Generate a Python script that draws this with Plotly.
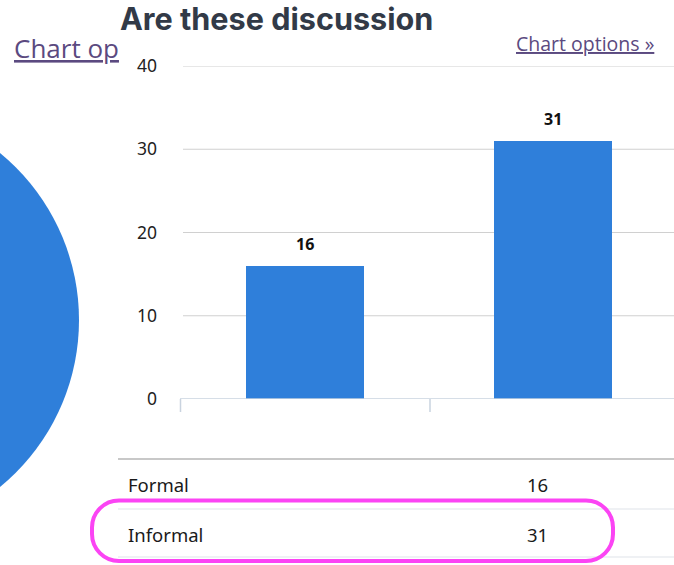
import plotly.graph_objects as go

# Data
categories = ["Formal", "Informal"]
counts = [16, 31]
y_ticks = [0, 10, 20, 30, 40]
title_text = "Are these discussion"
link_text = "Chart options »"
link_stub = "Chart op"

W, H = 674, 565
BLUE = "#2f7fda"
LINK = "#5b4a80"
MAGENTA = "#fb44f4"


def px(x):
    return x / W


def py(y):
    return 1 - y / H


fig = go.Figure()

fig.add_trace(go.Bar(
    x=categories,
    y=counts,
    width=0.476,
    marker=dict(color=BLUE, line=dict(width=0)),
    hoverinfo="skip",
))

annotations = []

# value labels above the bars
for c, v in zip(categories, counts):
    annotations.append(dict(
        x=c, y=v, xref="x", yref="y", text=f"<b>{v}</b>", showarrow=False,
        yshift=22, font=dict(family="Noto Sans", size=16, color="#111111"),
    ))

# heading and links
annotations.append(dict(
    x=px(118), y=py(18), xref="paper", yref="paper", xanchor="left", yanchor="middle",
    text=f"<b>{title_text}</b>", showarrow=False,
    font=dict(family="Inter", size=30.6, color="#323a47"),
))
annotations.append(dict(
    x=px(12), y=py(48), xref="paper", yref="paper", xanchor="left", yanchor="middle",
    text=f"<u>{link_stub}</u>", showarrow=False,
    font=dict(family="Open Sans", size=26, color=LINK),
))
annotations.append(dict(
    x=px(656), y=py(44), xref="paper", yref="paper", xanchor="right", yanchor="middle",
    text=f"<u>{link_text}</u>", showarrow=False,
    font=dict(family="Open Sans", size=19.5, color=LINK),
))

# data table below the chart
row_y = [484, 534]
for c, v, ry in zip(categories, counts, row_y):
    annotations.append(dict(
        x=px(126), y=py(ry), xref="paper", yref="paper", xanchor="left", yanchor="middle",
        text=c, showarrow=False, font=dict(family="Noto Sans", size=18.5, color="#1a1a1a"),
    ))
    annotations.append(dict(
        x=px(537), y=py(ry), xref="paper", yref="paper", xanchor="center", yanchor="middle",
        text=str(v), showarrow=False, font=dict(family="Noto Sans", size=18.5, color="#1a1a1a"),
    ))

shapes = []

# decorative circle on the left
cx, cy, r = -137, 320, 216
shapes.append(dict(
    type="circle", xref="paper", yref="paper",
    x0=px(cx - r), x1=px(cx + r), y0=py(cy + r), y1=py(cy - r),
    fillcolor=BLUE, line=dict(width=0), layer="below",
))

# horizontal gridlines (the top one sits on the range edge, so draw them all)
for t in y_ticks[1:]:
    shapes.append(dict(type="line", xref="paper", yref="y", x0=px(183), x1=1, y0=t, y1=t,
                       line=dict(color="#d0d0d0", width=1.2), layer="below"))

# baseline and category ticks
shapes.append(dict(type="line", xref="paper", yref="y", x0=px(180), x1=1, y0=0, y1=0,
                   line=dict(color="#c9d3df", width=1.5)))
for bx in [180.5, 430]:
    shapes.append(dict(type="line", xref="paper", yref="paper",
                       x0=px(bx), x1=px(bx), y0=py(399), y1=py(412),
                       line=dict(color="#c9d3df", width=1.5)))

# table rules
shapes.append(dict(type="line", xref="paper", yref="paper", x0=px(118), x1=1,
                   y0=py(459), y1=py(459), line=dict(color="#c8c8c8", width=2)))
for ly in [509, 557]:
    shapes.append(dict(type="line", xref="paper", yref="paper", x0=px(118), x1=1,
                       y0=py(ly), y1=py(ly), line=dict(color="#dfe3ea", width=1.2)))

# highlight outline around the second table row
L, R, T, B, rad = 92, 613, 500.5, 561, 27
k = 0.5523 * rad


def P(x, y):
    return f"{px(x):.5f},{py(y):.5f}"


path = (
    f"M {P(L + rad, T)} L {P(R - rad, T)} "
    f"C {P(R - rad + k, T)} {P(R, T + rad - k)} {P(R, T + rad)} "
    f"L {P(R, B - rad)} "
    f"C {P(R, B - rad + k)} {P(R - rad + k, B)} {P(R - rad, B)} "
    f"L {P(L + rad, B)} "
    f"C {P(L + rad - k, B)} {P(L, B - rad + k)} {P(L, B - rad)} "
    f"L {P(L, T + rad)} "
    f"C {P(L, T + rad - k)} {P(L + rad - k, T)} {P(L + rad, T)} Z"
)
shapes.append(dict(type="path", xref="paper", yref="paper", path=path,
                   line=dict(color=MAGENTA, width=4)))

fig.update_layout(
    width=W, height=H,
    margin=dict(l=0, r=0, t=0, b=0, pad=0, autoexpand=False),
    paper_bgcolor="white", plot_bgcolor="white",
    showlegend=False,
    bargap=0,
    xaxis=dict(
        domain=[px(181), 1], range=[-0.5, 1.49],
        showticklabels=False, showgrid=False, zeroline=False, showline=False, ticks="",
        automargin=False, fixedrange=True,
    ),
    yaxis=dict(
        domain=[py(399), py(66)], range=[0, 40],
        tickvals=y_ticks, ticktext=[str(t) for t in y_ticks],
        showgrid=False, zeroline=False, showline=False, ticks="",
        ticklabelstandoff=23, automargin=False,
        tickfont=dict(family="Noto Sans", size=17.5, color="#222222"),
        fixedrange=True,
    ),
    annotations=annotations,
    shapes=shapes,
)

fig.write_html("out.html", config={"responsive": False, "displayModeBar": False})
